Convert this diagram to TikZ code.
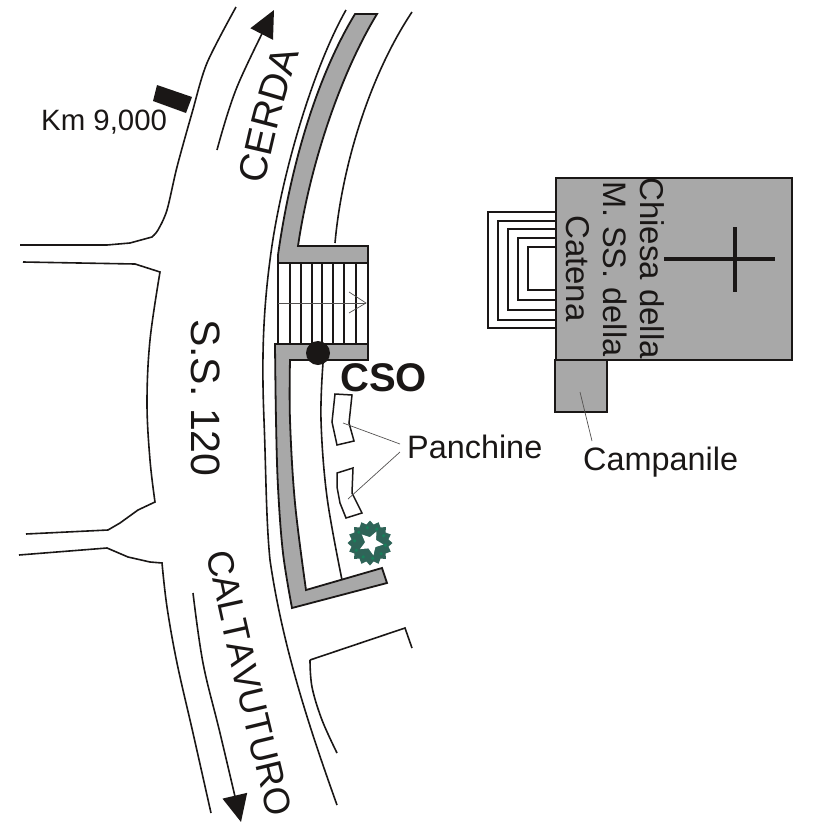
\documentclass[tikz,border=0pt]{standalone}
\usepackage{fontspec}
\setmainfont{Liberation Sans}
\usepackage{xcolor}
\usetikzlibrary{arrows.meta,decorations.text,shapes.geometric}
\definecolor{inchiostro}{HTML}{1A1716}
\definecolor{muro}{HTML}{A8A8A8}
\definecolor{albero}{HTML}{2F6458}
\definecolor{foglia}{HTML}{17805A}

\begin{document}
\begin{tikzpicture}[x=1pt,y=-1pt,line join=miter,
		strada/.style={draw=inchiostro,line width=1.6pt},
		parete/.style={draw=inchiostro,fill=muro,line width=1.8pt},
		gradino/.style={draw=inchiostro,line width=1.5pt},
		spia/.style={draw=inchiostro!75,line width=.7pt},
		freccia/.style={draw=inchiostro,line width=1.6pt,-{Triangle[length=27pt,width=25pt,fill=inchiostro]}},
		scritta/.style={text=inchiostro,inner sep=0pt,font=\fontsize{32.4}{32.4}\selectfont}]
			\useasboundingbox (0,0) rectangle (828,828);
			%strada sinistra
			\draw[strada] plot[smooth,tension=.5] coordinates {(236,7) (207,63) (192,113) (177,167) (167,210) (158,230) (152,237)} -- (130,243) -- (107,245) -- (20,245);
			\draw[strada] (23,262) -- (135,264) -- plot[smooth,tension=.6] coordinates {(160,272) (150,340) (147,403) (150,460) (155,502)} -- (138,510) -- (120,523) -- (108,530) -- (26,534);
			\draw[strada] (19,555) -- (107,548) -- (128,557) -- (150,562) -- plot[smooth,tension=.6] coordinates {(162,563) (167,607) (177,663) (193,733) (211,813)};
			%strada destra
			\draw[strada] (346,10) .. controls (312,70) and (280,180) .. (270,260) .. controls (262,320) and (262,370) .. (264,420) .. controls (266,470) and (266,520) .. (270,560) .. controls (283,650) and (312,735) .. (337,805);
			\draw[strada] (412,12) .. controls (370,75) and (342,165) .. (335,243);
			\draw[strada] plot[smooth,tension=.6] coordinates {(323,363) (321,420) (327,497) (342,580)};
			\draw[strada] plot[smooth,tension=.6] coordinates {(310,660) (312,687) (322,720) (337,753)};
			\draw[strada] (310,660) -- (405,628) -- (412,648);
			%muri
			\draw[parete] (278,255) .. controls (290,170) and (315,80) .. (355,14) -- (377,14) .. controls (340,75) and (310,165) .. (298,246) -- (368,246) -- (368,263) -- (278,263) -- cycle;
			\draw[parete] (275,344) -- (368,344) -- (368,360) -- plot[smooth,tension=.6] coordinates {(290,360) (290,420) (295,503) (306,590)} -- (382,568) -- (387,583) -- plot[smooth,tension=.6] coordinates {(292,608) (283,553) (278,487) (276,420) (275,344)} -- cycle;
			%scala
			\foreach \gx in {278,290,301,312,322,333,344,356,368}
				\draw[gradino] (\gx,263) -- (\gx,344);
			\coordinate (scalaA) at (278,303);
			\coordinate (scalaB) at (366,303);
			\draw[spia] (scalaA) -- (scalaB);
			\draw[spia] (349,292) -- (scalaB) -- (349,313);
			\fill[inchiostro] (318,353) circle (12);
			\node[scritta,anchor=base west,font=\bfseries\fontsize{40}{40}\selectfont] (cso) at (340,391) {CSO};
			%panchine
			\draw[gradino,fill=white] (335,394) -- (352,395) -- (349,423) -- (354,441) -- (337,445) -- (332,422) -- cycle;
			\draw[gradino,fill=white] (337,473) -- (353,468) -- (352,493) -- (362,513) -- (346,518) -- (340,503) -- (337,487) -- cycle;
			\node[scritta,anchor=base west] (panchine) at (407,458) {Panchine};
			\coordinate (panchinaA) at (343,423);
			\coordinate (panchinaB) at (348,499);
			\coordinate (spiaA) at (400,444);
			\coordinate (spiaB) at (400,452);
			\draw[spia] (panchinaA) -- (spiaA);
			\draw[spia] (panchinaB) -- (spiaB);
			%albero
			\node[star,star points=16,star point ratio=1.2,fill=albero,inner sep=0pt,minimum size=45pt] (chioma) at (370,543) {};
			\node[star,star points=5,star point ratio=2.1,fill=white,inner sep=0pt,minimum size=25pt,rotate=-25] (stella) at (371,543) {};
			\foreach \ang in {0,36,...,324}
				\fill[foglia] (370,543) ++(\ang+8:15.5) circle (1.8);
			%chiesa
			\foreach \sl/\st/\sb in {488/212/328,498/221/320,508/229/310,518/238/300,528/247/290}
				\draw[gradino] (556,\st) -- (\sl,\st) -- (\sl,\sb) -- (556,\sb);
			\draw[parete] (556,178) rectangle (792,360);
			\draw[parete] (555,360) rectangle (607,412);
			\draw[inchiostro,line width=3.6pt] (664,259) -- (775,259);
			\draw[inchiostro,line width=3.6pt] (735,227) -- (735,292);
			\node[scritta,anchor=base west,rotate=-90,font=\fontsize{33}{33}\selectfont] (chiesa) at (640,177) {Chiesa della};
			\node[scritta,anchor=base west,rotate=-90,font=\fontsize{32.5}{32.5}\selectfont] (madonna) at (603,181) {M. SS. della};
			\node[scritta,anchor=base west,rotate=-90,font=\fontsize{33}{33}\selectfont] (catena) at (566,215) {Catena};
			\node[scritta,anchor=base west] (campanile) at (583,470) {Campanile};
			\coordinate (torre) at (580,392);
			\coordinate (spiaC) at (592,441);
			\draw[spia] (torre) -- (spiaC);
			%scritte strada
			\node[scritta,anchor=base west,font=\fontsize{29.4}{29.4}\selectfont] (km) at (41,130) {Km 9,000};
			\fill[inchiostro] (157,85) -- (192,97) -- (186,113) -- (153,101) -- cycle;
			\node[scritta,anchor=base west,rotate=-90,font=\fontsize{41}{41}\selectfont] (statale) at (191,319) {S.S. 120};
			\path[decorate,decoration={text along path,text align=center,text color=inchiostro,text={|\fontsize{39}{39}\selectfont|CERDA}}]
				(264,190) .. controls (272,145) and (285,95) .. (301,48);
			\path[decorate,decoration={text along path,text align=center,text color=inchiostro,text={|\fontsize{36.5}{36.5}\selectfont|CALTAVUTURO}}]
				(207,553) .. controls (224,640) and (247,730) .. (268,818);
			%frecce
			\draw[freccia] plot[smooth,tension=.6] coordinates {(217,150) (237,87) (274,10)};
			\draw[freccia] plot[smooth,tension=.6] coordinates {(193,593) (203,663) (220,733) (241,822)};
	\end{tikzpicture}
\end{document}
